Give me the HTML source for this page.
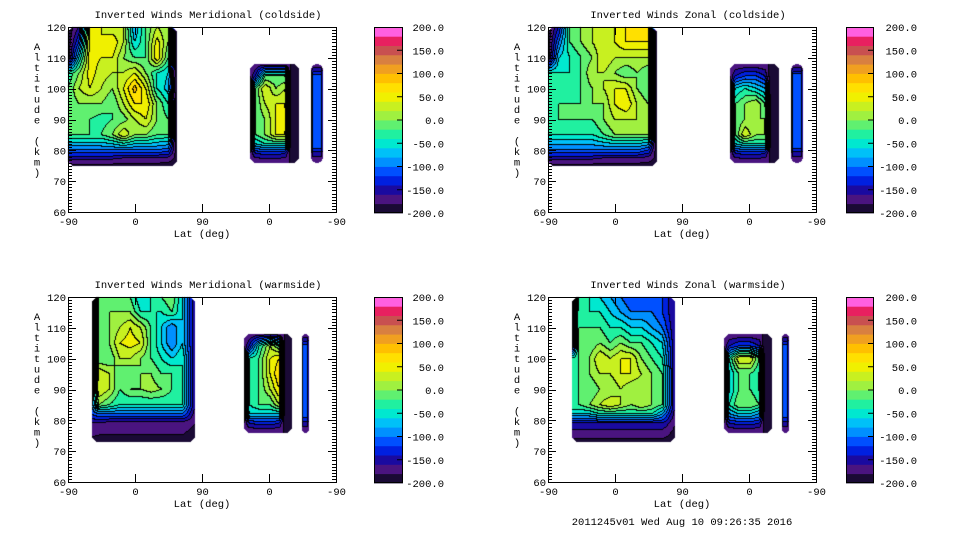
<!DOCTYPE html>
<html><head><meta charset="utf-8"><style>
html,body{margin:0;padding:0;background:#fff;width:960px;height:540px;overflow:hidden}
#cv{position:absolute;left:0;top:0}
#sv{position:absolute;left:0;top:0}
text{font-family:"Liberation Mono","DejaVu Sans Mono",monospace;font-size:10.5px;fill:#000}
</style></head><body>
<canvas id="cv" width="960" height="540"></canvas>
<svg id="sv" width="960" height="540"></svg>
<script>
const colorBands=["#1a0a35","#4a1480","#1a0aa0","#0020e0","#0050ff","#0090ff","#00c0f8","#00e8d0","#20f0a0","#60f070","#a0f040","#c8f020","#f0f000","#ffe000","#ffc000","#f0a020","#d88040","#c85050","#e82060","#ff60e0"];
const cbarTicks=[200,150,100,50,0,-50,-100,-150,-200];
const yTicks=[60,70,80,90,100,110,120];
const xTickU=[0,90,180,270,360];
const xTickLabels=["-90","0","90","0","-90"];

const coldA_u=[0,15,30,45,60,75,90,105,120,135,146];
const coldA_alt=[120,115,110,105,100,95,90,85,80,77,75];
const warmA_u=[32,42,56,70,84,98,112,126,140,154,171];
const warmA_alt=[120,115,110,105,100,95,90,85,82,79,76,73];
const coldB_u=[245,252,265,280,292,300,310];
const warmB_u=[237,244,257,272,284,292,301];
const B_alt=[108,104,100,95,90,85,82,79,76];
const coldC_u=[327,329.5,340.5,343];
const warmC_u=[314,316,322,324];
const C_alt=[108,106,104,81,79,76];

const merCold_A=[
[-200,-160,40,40,20,20,-80,-20,20,0,-200],
[-200,-120,50,40,60,20,-60,-20,50,0,-200],
[-200,-60,50,40,40,0,-20,-20,60,-20,-200],
[-40,0,50,30,20,20,40,0,-40,-60,-200],
[-20,20,40,20,0,40,90,40,-40,-70,-200],
[-20,0,0,0,-20,20,60,60,0,-40,-200],
[0,-20,-20,-30,-20,-10,20,40,0,-20,-200],
[-20,-20,-20,-20,0,40,0,0,-20,-20,-200],
[-100,-100,-100,-100,-100,-100,-100,-100,-100,-110,-190],
[-160,-160,-160,-160,-160,-170,-170,-170,-170,-175,-185],
[-185,-185,-185,-185,-185,-185,-185,-185,-185,-185,-185]];
const zonCold_A=[
[-200,-140,-20,0,20,20,40,60,80,60,-200],
[-200,-100,-20,0,20,40,40,60,60,60,-200],
[-200,-60,-40,-20,0,40,20,20,20,20,-200],
[-40,-40,-40,-20,20,20,0,-20,0,-20,-200],
[-40,-40,-40,-20,0,20,40,40,0,-20,-200],
[-40,-20,-20,-20,0,0,40,60,20,0,-200],
[-40,-20,-20,-20,-20,0,20,20,20,0,-200],
[-40,-40,-40,-40,-40,-20,0,0,0,0,-200],
[-100,-100,-100,-100,-100,-100,-100,-100,-100,-120,-190],
[-160,-160,-160,-160,-160,-170,-170,-170,-170,-175,-185],
[-185,-185,-185,-185,-185,-185,-185,-185,-185,-185,-185]];
const merWarm_A=[
[-200,-20,-20,0,-20,-60,-40,-20,0,-60,-160],
[-200,-20,0,0,0,-40,-40,-40,-20,-60,-160],
[-200,-20,0,20,40,20,-20,-60,-100,-60,-160],
[-200,0,0,40,50,40,-20,-60,-100,-60,-160],
[-200,-20,-20,20,20,0,-20,-40,-60,-40,-160],
[-200,40,20,-20,-20,0,0,-20,-20,-40,-160],
[-100,40,20,-20,0,0,10,0,-20,-40,-160],
[-100,0,-20,-40,-40,-40,-40,-40,-40,-40,-160],
[-120,-100,-100,-100,-100,-100,-100,-100,-100,-100,-170],
[-160,-160,-170,-170,-170,-170,-170,-170,-170,-170,-180],
[-175,-178,-178,-178,-178,-178,-178,-178,-178,-178,-185],
[-185,-185,-185,-185,-185,-185,-185,-185,-185,-185,-185]];
const zonWarm_A=[
[-200,-40,-40,-60,-80,-100,-120,-120,-120,-120,-160],
[-200,-20,-40,-40,-60,-80,-100,-100,-100,-120,-160],
[-200,-20,-20,-20,-40,-40,-60,-60,-80,-100,-160],
[-200,-20,-20,0,-20,0,-20,-20,-40,-60,-160],
[-40,-20,0,40,20,40,40,0,-20,-40,-160],
[-40,-20,0,20,20,40,40,20,0,-20,-160],
[-40,-20,-20,0,0,20,0,0,0,-20,-160],
[-20,-20,0,20,40,20,0,20,0,-20,-160],
[-60,-60,-60,-40,-40,-40,-40,-40,-40,-80,-170],
[-140,-140,-140,-140,-140,-140,-140,-140,-140,-140,-180],
[-170,-170,-170,-170,-170,-170,-170,-170,-170,-170,-185],
[-185,-185,-185,-185,-185,-185,-185,-185,-185,-185,-185]];
const merCold_B=[
[-180,-180,-180,-180,-180,-180,-180],
[-180,-140,-20,-20,-20,-200,-180],
[-200,-20,40,0,20,-200,-180],
[-200,-20,20,40,40,-200,-180],
[-200,-20,0,40,60,-200,-180],
[-200,-20,0,40,40,-200,-180],
[-200,-60,-40,-40,-40,-200,-180],
[-180,-140,-130,-130,-140,-190,-180],
[-180,-180,-180,-180,-180,-180,-180]];
const zonCold_B=[
[-180,-180,-180,-180,-180,-180,-180],
[-180,-140,-120,-120,-140,-200,-180],
[-200,-60,-40,-60,-80,-200,-180],
[-200,-20,0,20,-20,-200,-180],
[-200,-20,0,0,0,-200,-180],
[-200,-20,40,0,0,-200,-180],
[-200,-60,-40,-40,-40,-200,-180],
[-180,-140,-130,-130,-140,-190,-180],
[-180,-180,-180,-180,-180,-180,-180]];
const merWarm_B=[
[-180,-180,-180,-180,-180,-180,-180],
[-180,-140,-40,20,-20,-200,-180],
[-200,-40,-20,40,60,-200,-180],
[-200,-40,-20,40,80,-200,-180],
[-200,-40,-20,20,60,-200,-180],
[-200,-40,-20,-20,20,-200,-180],
[-200,-60,-60,-60,-60,-200,-180],
[-180,-140,-130,-130,-140,-190,-180],
[-180,-180,-180,-180,-180,-180,-180]];
const zonWarm_B=[
[-180,-180,-180,-180,-180,-180,-180],
[-180,-140,-120,-120,-140,-200,-180],
[-200,-40,40,40,-20,-200,-180],
[-200,-60,-20,-20,-40,-200,-180],
[-200,-60,-20,-20,-40,-200,-180],
[-200,-40,0,0,-20,-200,-180],
[-200,-80,-60,-60,-80,-200,-180],
[-180,-140,-130,-130,-140,-190,-180],
[-180,-180,-180,-180,-180,-180,-180]];
const merCold_C=[[-175,-175,-175,-175],[-175,-150,-150,-175],[-175,-110,-110,-175],[-175,-110,-110,-175],[-175,-150,-150,-175],[-175,-175,-175,-175]];
const zonCold_C=[[-175,-175,-175,-175],[-175,-150,-150,-175],[-175,-105,-105,-175],[-175,-105,-105,-175],[-175,-150,-150,-175],[-175,-175,-175,-175]];
const merWarm_C=[[-175,-175,-175,-175],[-175,-150,-150,-175],[-175,-115,-115,-175],[-175,-115,-115,-175],[-175,-150,-150,-175],[-175,-175,-175,-175]];
const zonWarm_C=[[-175,-175,-175,-175],[-175,-150,-150,-175],[-175,-115,-115,-175],[-175,-115,-115,-175],[-175,-150,-150,-175],[-175,-175,-175,-175]];

const panels=[
 {name:"meridional-coldside",title:"Inverted Winds Meridional (coldside)",x0:68,y0:27,cb:374,cbw:29,lab:444,
  regions:[[coldA_u,coldA_alt,merCold_A],[coldB_u,B_alt,merCold_B],[coldC_u,C_alt,merCold_C]]},
 {name:"zonal-coldside",title:"Inverted Winds Zonal (coldside)",x0:548,y0:27,cb:846,cbw:28,lab:917,
  regions:[[coldA_u,coldA_alt,zonCold_A],[coldB_u,B_alt,zonCold_B],[coldC_u,C_alt,zonCold_C]]},
 {name:"meridional-warmside",title:"Inverted Winds Meridional (warmside)",x0:68,y0:297,cb:374,cbw:29,lab:444,
  regions:[[warmA_u,warmA_alt,merWarm_A],[warmB_u,B_alt,merWarm_B],[warmC_u,C_alt,merWarm_C]]},
 {name:"zonal-warmside",title:"Inverted Winds Zonal (warmside)",x0:548,y0:297,cb:846,cbw:28,lab:917,
  regions:[[warmA_u,warmA_alt,zonWarm_A],[warmB_u,B_alt,zonWarm_B],[warmC_u,C_alt,zonWarm_C]]}
];
const PW=268,PH=185;
function xS(p,u){return p.x0+u*PW/360;}
function yS(p,a){return p.y0+(120-a)*PH/60;}
function uInv(p,x){return (x-p.x0)*360/PW;}
function aInv(p,y){return 120-(y-p.y0)*60/PH;}
function band(v){let i=Math.floor((v+200)/20);return Math.max(0,Math.min(19,i));}
function hex(h){return [parseInt(h.substr(1,2),16),parseInt(h.substr(3,2),16),parseInt(h.substr(5,2),16)];}
function interp(us,als,vals,u,a){
  let i=0;while(i<us.length-2&&u>us[i+1])i++;
  let j=0;while(j<als.length-2&&a<als[j+1])j++;
  let tu=Math.max(0,Math.min(1,(u-us[i])/(us[i+1]-us[i])));
  let ta=Math.max(0,Math.min(1,(als[j]-a)/(als[j]-als[j+1])));
  let v00=vals[j][i],v01=vals[j][i+1],v10=vals[j+1][i],v11=vals[j+1][i+1];
  return (v00*(1-tu)+v01*tu)*(1-ta)+(v10*(1-tu)+v11*tu)*ta;
}
const ctx=document.getElementById('cv').getContext('2d');
const img=ctx.createImageData(960,540);
const rgb=colorBands.map(hex);
panels.forEach(p=>{
  p.regions.forEach(r=>{
    const [us,als,vals]=r;
    const x1=Math.round(xS(p,us[0])),x2=Math.round(xS(p,us[us.length-1]));
    const y1=Math.round(yS(p,als[0])),y2=Math.round(yS(p,als[als.length-1]));
    const rad=Math.min(7,(x2-x1)/2);
    const W=x2-x1,H=y2-y1;const b=[];
    for(let y=0;y<H;y++){b.push([]);for(let x=0;x<W;x++){
      const px=x1+x+0.5,py=y1+y+0.5;
      let cx=Math.max(x1+rad,Math.min(x2-rad,px)),cy=Math.max(y1+rad,Math.min(y2-rad,py));
      if((px-cx)*(px-cx)+(py-cy)*(py-cy)>rad*rad){b[y].push(-1);continue;}
      b[y].push(band(interp(us,als,vals,uInv(p,px),aInv(p,py))));
    }}
    for(let y=0;y<H;y++)for(let x=0;x<W;x++){
      const k=b[y][x];if(k<0)continue;
      let c=rgb[k];
      const r2=x+1<W?b[y][x+1]:-1,d2=y+1<H?b[y+1][x]:-1;
      if((r2>=0&&r2!==k)||(d2>=0&&d2!==k))c=[0,0,0];
      const o=((y1+y)*960+(x1+x))*4;
      img.data[o]=c[0];img.data[o+1]=c[1];img.data[o+2]=c[2];img.data[o+3]=255;
    }
  });
});
ctx.putImageData(img,0,0);

const NS="http://www.w3.org/2000/svg";
const sv=document.getElementById('sv');
function el(tag,attrs,parent,txt){const e=document.createElementNS(NS,tag);for(const k in attrs)e.setAttribute(k,attrs[k]);if(txt!==undefined)e.textContent=txt;(parent||sv).appendChild(e);return e;}
panels.forEach(p=>{
  const g=el('g',{});
  
  
  const t=el('text',{x:p.x0+140,y:p.y0-9,'text-anchor':'middle'},g,p.title);
  
  
  const fr=el('rect',{x:p.x0+0.5,y:p.y0+0.5,width:PW,height:PH,fill:'none',stroke:'#000','stroke-width':1},g);
  
  
  for(let a=60;a<=120;a++){
    const y=Math.round(yS(p,a))+0.5,len=a%10===0?8:4;
    el('line',{x1:p.x0,x2:p.x0+len,y1:y,y2:y,stroke:'#000'},g);
    el('line',{x1:p.x0+PW-len,x2:p.x0+PW,y1:y,y2:y,stroke:'#000'},g);
  }
  yTicks.forEach(a=>{
    const l=el('text',{x:p.x0-2,y:yS(p,a)+4,'text-anchor':'end'},g,String(a));
    
    
  });
  xTickU.forEach((u,i)=>{
    const x=Math.round(xS(p,u))+0.5;
    el('line',{x1:x,x2:x,y1:p.y0,y2:p.y0+8,stroke:'#000'},g);
    el('line',{x1:x,x2:x,y1:p.y0+PH-8,y2:p.y0+PH,stroke:'#000'},g);
    const l=el('text',{x:x,y:p.y0+PH+13,'text-anchor':'middle'},g,xTickLabels[i]);
    
    
  });
  const xt=el('text',{x:p.x0+134,y:p.y0+PH+25,'text-anchor':'middle'},g,'Lat (deg)');
  
  
  const yt=el('text',{x:p.x0-31,y:p.y0+23,'text-anchor':'middle'},g);
  
  
  "Altitude (km)".split('').forEach((ch,i)=>{el('tspan',{x:p.x0-31,y:p.y0+23+i*10.5},yt,ch);});
  const cbTop=p.y0,cbBot=p.y0+186,bh=(cbBot-cbTop)/colorBands.length;
  colorBands.forEach((c,i)=>{
    const r=el('rect',{x:p.cb,y:cbBot-(i+1)*bh,width:p.cbw,height:bh+0.4,fill:c},g);
    
    
  });
  el('rect',{x:p.cb+0.5,y:cbTop+0.5,width:p.cbw-1,height:cbBot-cbTop-1,fill:'none',stroke:'#000'},g);
  cbarTicks.forEach(v=>{
    const y=cbBot-(v+200)/400*(cbBot-cbTop);
    if(v>-200&&v<200)el('line',{x1:p.cb+p.cbw-6,x2:p.cb+p.cbw,y1:y,y2:y,stroke:'#000'},g);
    const l=el('text',{x:p.lab,y:y+4,'text-anchor':'end'},g,v.toFixed(1));
    
    
  });
});
const ts=el('text',{x:682,y:525,'text-anchor':'middle'},sv,'2011245v01 Wed Aug 10 09:26:35 2016');


</script>
</body></html>
